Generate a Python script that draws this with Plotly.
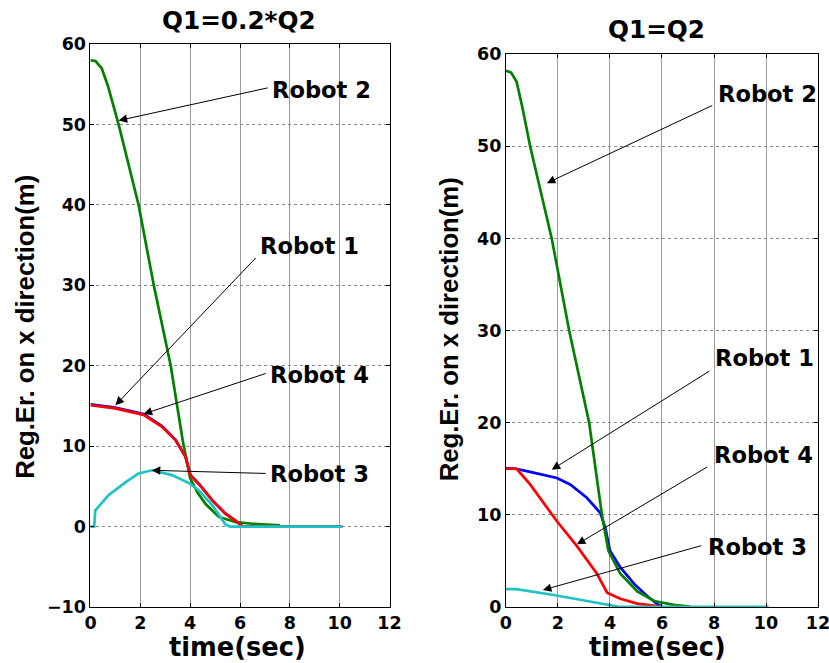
import plotly.graph_objects as go

# ---------------- data: left panel (Q1=0.2*Q2) ----------------
t_l_green = [0, 0.2, 0.45, 0.7, 1.13, 1.5, 1.93, 2.54, 3.22, 3.7, 3.9, 4.0, 4.3, 4.62, 5.15, 5.83, 6.5, 7.0, 7.6]
y_l_green = [58, 57.9, 57, 54.8, 50, 45.5, 40, 30, 20, 10.7, 7.3, 6.0, 4.2, 2.8, 1.2, 0.55, 0.35, 0.25, 0.15]

t_l_red = [0, 0.3, 0.99, 2.13, 2.87, 3.41, 3.81, 4.01, 4.35, 4.89, 5.42, 5.96, 6.1, 10.1]
y_l_red = [15.1, 15.0, 14.7, 13.9, 12.4, 10.75, 8.7, 6.4, 5.3, 3.25, 1.6, 0.4, 0, 0]

t_l_blue = [0, 0.3, 0.99, 2.13, 2.87, 3.41, 3.81, 4.01, 4.35, 4.89, 5.42, 5.96, 6.1, 10.1]
y_l_blue = [15.2, 15.1, 14.8, 14.0, 12.5, 10.8, 8.7, 6.4, 5.3, 3.25, 1.6, 0.4, 0, 0]

t_l_cyan = [0, 0.15, 0.19, 0.72, 1.4, 1.93, 2.47, 3.27, 3.95, 4.35, 4.9, 5.42, 5.6, 10.1]
y_l_cyan = [0, 0, 2.0, 3.9, 5.5, 6.6, 7.0, 6.4, 5.4, 4.5, 2.6, 0.25, 0, 0]

# ---------------- data: right panel (Q1=Q2) ----------------
t_r_green = [0, 0.2, 0.41, 0.65, 0.93, 1.3, 1.76, 2.43, 3.2, 3.69, 3.94, 4.4, 5.05, 5.7, 6.5, 7.1]
y_r_green = [58.2, 58, 57, 54, 50, 45.5, 40, 30, 20, 10, 6.1, 3.6, 1.7, 0.65, 0.2, 0.05]

t_r_blue = [0, 0.37, 0.93, 1.96, 2.47, 3.11, 3.63, 3.82, 4.0, 4.4, 4.93, 5.43, 5.82, 6.0]
y_r_blue = [15.05, 15, 14.66, 14.0, 13.3, 11.85, 10.2, 8.6, 6.1, 4.3, 2.5, 1.2, 0.3, 0.05]

t_r_red = [0, 0.41, 0.93, 1.96, 2.73, 3.5, 3.89, 4.4, 5.05, 5.97]
y_r_red = [15, 15, 13.3, 9.3, 6.6, 3.6, 1.55, 0.9, 0.36, 0.05]

t_r_cyan = [0, 0.4, 1.84, 3.13, 3.9, 4.4, 10.1]
y_r_cyan = [1.93, 1.93, 1.3, 0.65, 0.2, 0, 0]

titles = ["Q1=0.2*Q2", "Q1=Q2"]
x_title = "time(sec)"
y_title = "Reg.Er. on x direction(m)"
x_ticks = [0, 2, 4, 6, 8, 10, 12]
y_ticks_left = [-10, 0, 10, 20, 30, 40, 50, 60]
y_ticks_right = [0, 10, 20, 30, 40, 50, 60]

# annotation labels: (label, text x, text y, tail x, tail y, tip x, tip y)
labels_left = [
    ("Robot 2", 7.25, 54.25, 7.17, 54.6, 1.13, 50.5),
    ("Robot 1", 6.77, 34.9, 6.69, 33.6, 1.0, 15.1),
    ("Robot 4", 7.17, 18.9, 7.09, 19.1, 2.13, 14.0),
    ("Robot 3", 7.17, 6.6, 7.09, 6.6, 2.46, 7.0),
]
labels_right = [
    ("Robot 2", 8.11, 55.7, 7.99, 54.5, 1.57, 46.0),
    ("Robot 1", 7.99, 27.0, 7.88, 25.7, 1.76, 14.9),
    ("Robot 4", 7.95, 16.5, 7.80, 15.3, 2.73, 6.8),
    ("Robot 3", 7.72, 6.5, 7.57, 6.7, 1.42, 1.84),
]

GREEN = "#008000"
RED = "#ff0000"
BLUE = "#0000ff"
CYAN = "#1ec4c4"
LW = 2.7

W, H = 834, 666
# compensation for the observed page placement: shown = S * (figure_px + 8)
SX, SY, M = 0.975, 0.972, 8
K = 1 / ((SX + SY) / 2)

def fx(px):
    return min(1.0, (px / SX - M) / W)

def fy(py):
    return max(0.0, 1 - (py / SY - M) / H)

def fs(size):
    return round(size * K, 1)

fig = go.Figure()

def add(t, y, color, xa, ya):
    fig.add_trace(go.Scatter(x=t, y=y, mode="lines", line=dict(color=color, width=LW),
                             xaxis=xa, yaxis=ya, showlegend=False, hoverinfo="skip"))

add(t_l_blue, y_l_blue, BLUE, "x", "y")
add(t_l_green, y_l_green, GREEN, "x", "y")
add(t_l_red, y_l_red, RED, "x", "y")
add(t_l_cyan, y_l_cyan, CYAN, "x", "y")

add(t_r_blue, y_r_blue, BLUE, "x2", "y2")
add(t_r_red, y_r_red, RED, "x2", "y2")
add(t_r_green, y_r_green, GREEN, "x2", "y2")
add(t_r_cyan, y_r_cyan, CYAN, "x2", "y2")

tickfont = dict(family="DejaVu Sans", size=fs(17), color="black", weight="bold")

def xaxis(dom):
    return dict(domain=dom, range=[0, 12], tickvals=x_ticks, ticks="inside", ticklen=4,
                tickcolor="black", showline=True, linecolor="black", linewidth=1, mirror="ticks",
                showgrid=True, gridcolor="#9a9a9a", gridwidth=1.2, zeroline=False,
                tickfont=tickfont, fixedrange=True)

def yaxis(dom, rng, ticks, anchor):
    return dict(domain=dom, range=rng, tickvals=ticks, ticks="inside", ticklen=4,
                tickcolor="black", showline=True, linecolor="black", linewidth=1, mirror="ticks",
                showgrid=True, gridcolor="#8a8a8a", gridwidth=1, griddash="dot", zeroline=False,
                tickfont=tickfont, anchor=anchor, fixedrange=True)

fig.update_layout(
    width=W, height=H, margin=dict(l=0, r=0, t=0, b=0),
    paper_bgcolor="white", plot_bgcolor="white",
    xaxis=dict(xaxis([fx(92), fx(390)]), anchor="y"),
    yaxis=yaxis([fy(606), fy(42)], [-10, 60], y_ticks_left, "x"),
    xaxis2=dict(xaxis([fx(506), fx(817)]), anchor="y2"),
    yaxis2=yaxis([fy(606), fy(52)], [0, 60], y_ticks_right, "x2"),
)

ann = []
lblfont = dict(family="DejaVu Sans", size=fs(22), color="black", weight="bold")
for labels, xr, yr in [(labels_left, "x", "y"), (labels_right, "x2", "y2")]:
    for lab, tx, ty, ax, ay, px, py in labels:
        ann.append(dict(x=px, y=py, ax=ax, ay=ay, xref=xr, yref=yr, axref=xr, ayref=yr,
                        text="", showarrow=True, arrowhead=2, arrowsize=1.7, arrowwidth=1,
                        arrowcolor="black", standoff=0, startstandoff=0))
        ann.append(dict(x=tx, y=ty, xref=xr, yref=yr, text=lab, showarrow=False,
                        xanchor="left", yanchor="middle", font=lblfont, borderpad=0))

ttlfont = dict(family="DejaVu Sans", size=fs(24), color="black", weight="bold")
ann.append(dict(x=fx(240), y=fy(18), xref="paper", yref="paper", text=titles[0],
                showarrow=False, xanchor="center", yanchor="middle", font=ttlfont))
ann.append(dict(x=fx(656), y=fy(27), xref="paper", yref="paper", text=titles[1],
                showarrow=False, xanchor="center", yanchor="middle", font=ttlfont))

xtfont = dict(family="DejaVu Sans", size=fs(25), color="black", weight="bold")
for cx in (238, 657):
    ann.append(dict(x=fx(cx), y=fy(646), xref="paper", yref="paper", text=x_title,
                    showarrow=False, xanchor="center", yanchor="middle", font=xtfont))

ytfont = dict(family="Liberation Sans", size=fs(25), color="black", weight="bold")
for cx, cy in ((26, 325), (449, 328)):
    ann.append(dict(x=fx(cx), y=fy(cy), xref="paper", yref="paper", text=y_title,
                    showarrow=False, xanchor="center", yanchor="middle", textangle=-90,
                    font=ytfont))

fig.update_layout(annotations=ann)
fig.write_html("out.html")
